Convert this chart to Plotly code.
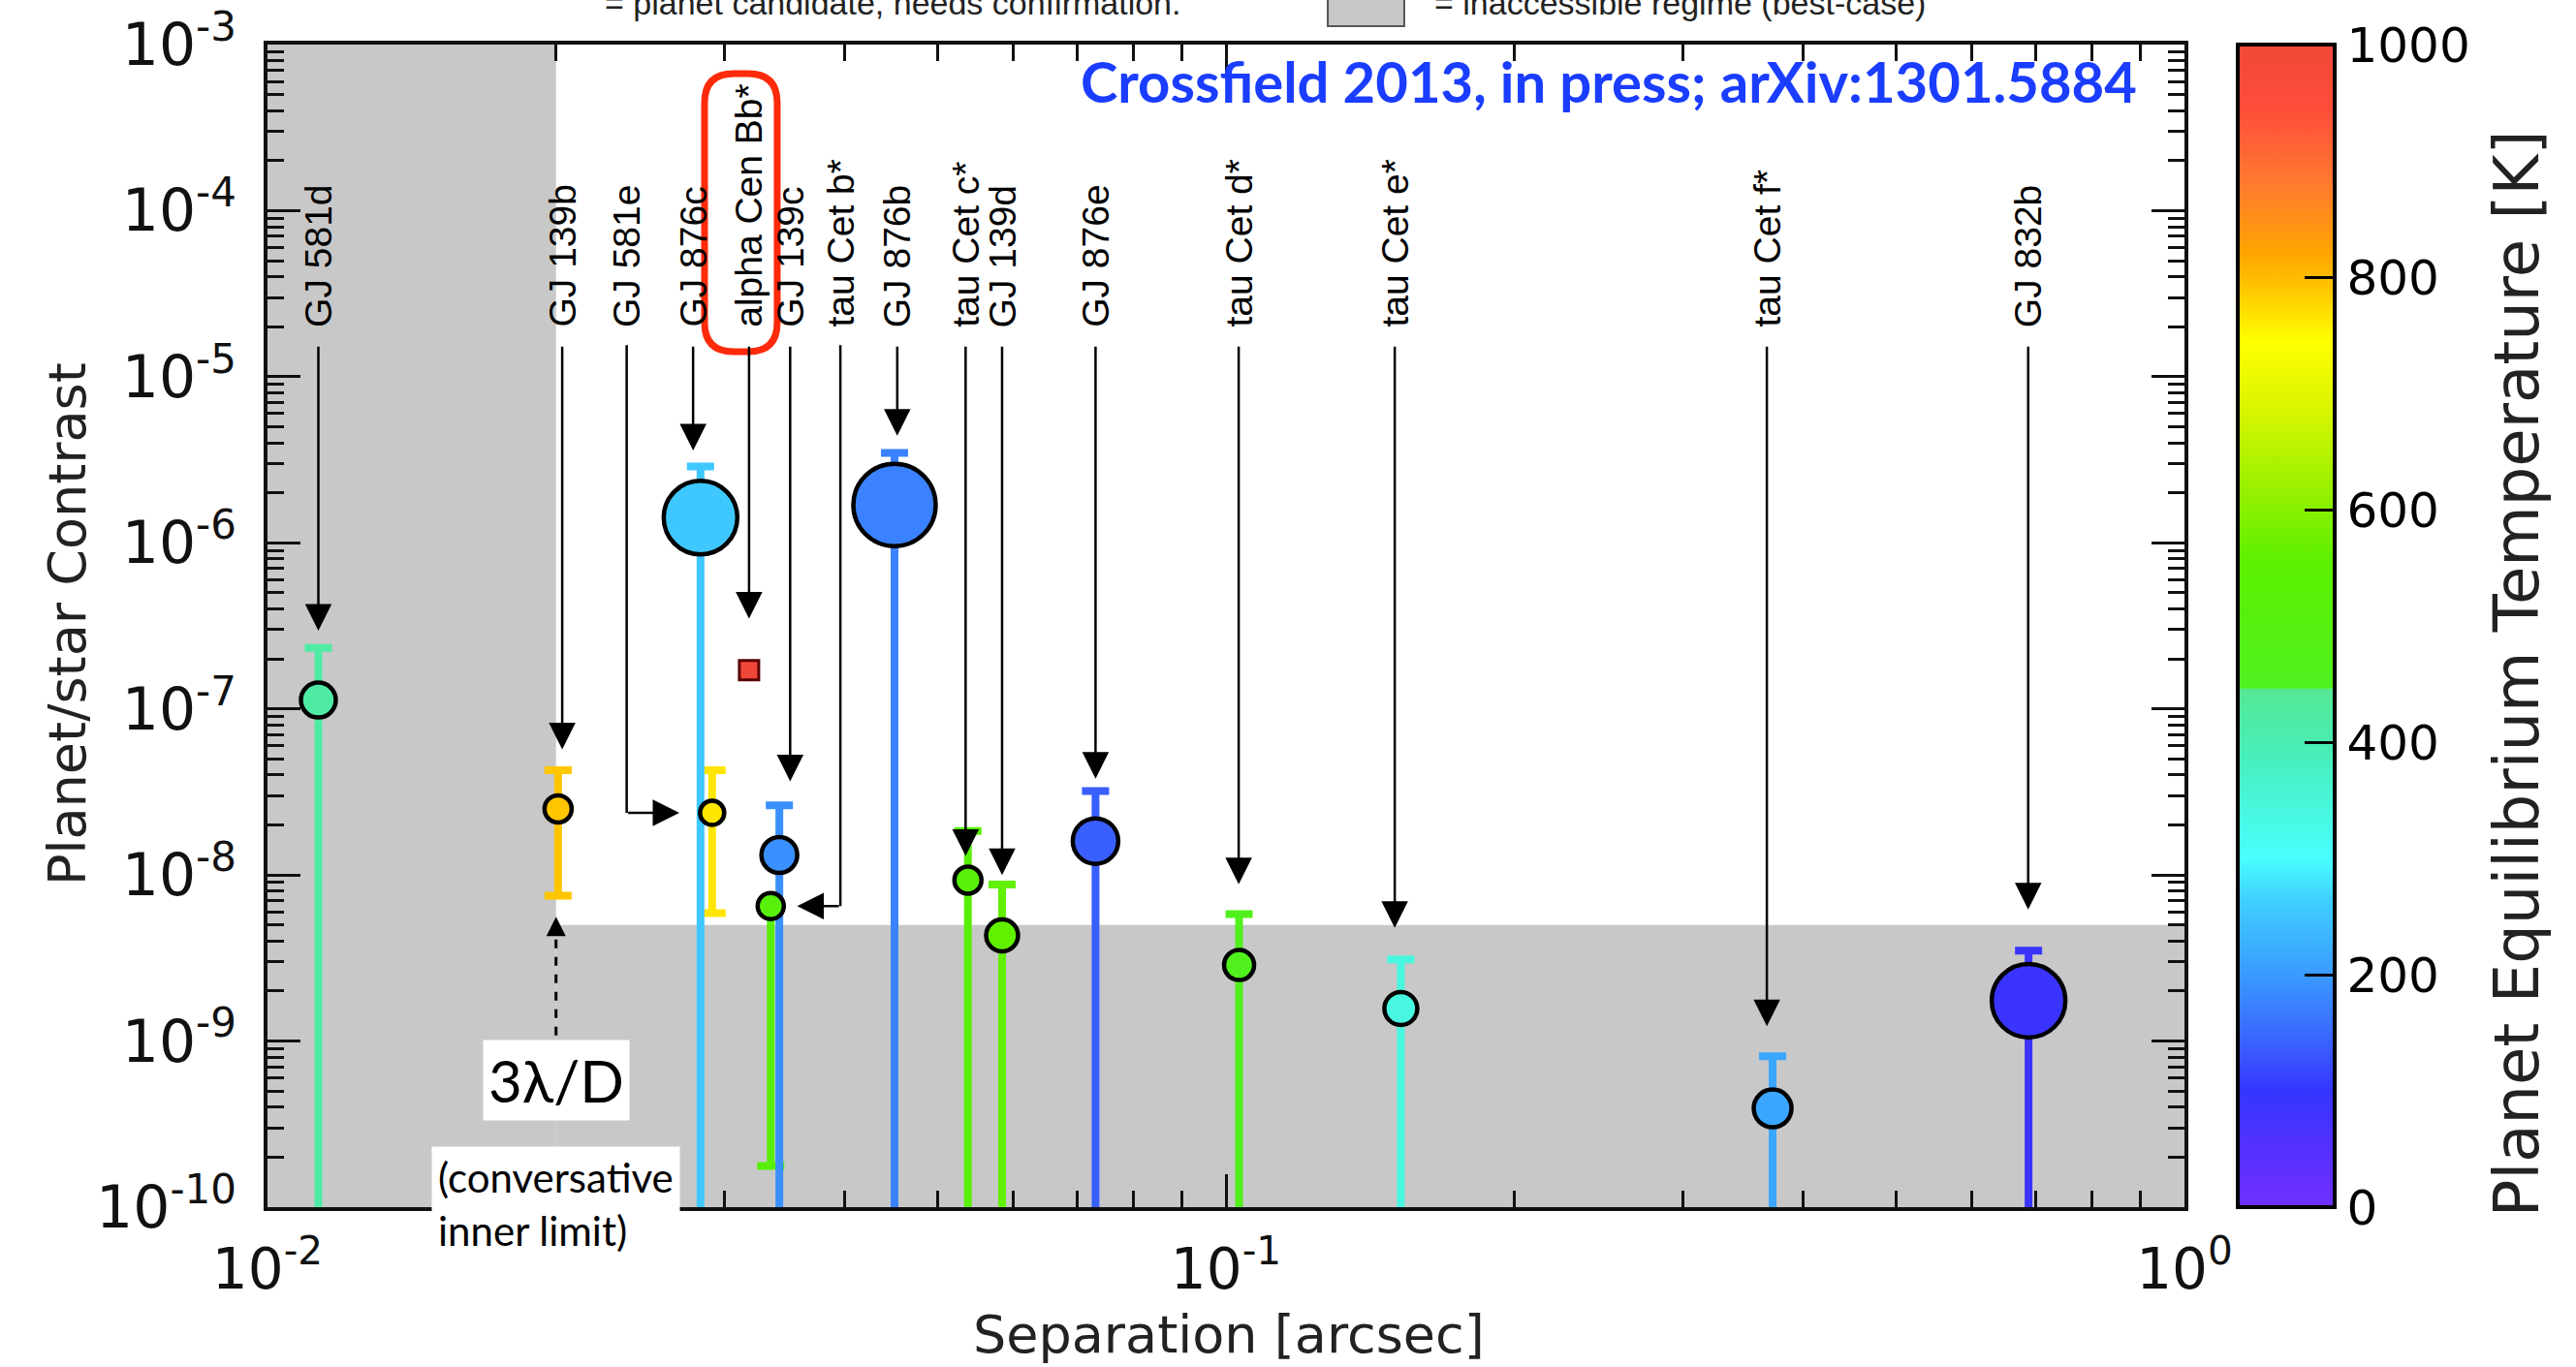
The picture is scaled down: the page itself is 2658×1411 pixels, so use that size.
import numpy as np
import plotly.graph_objects as go

# ---------------- data ----------------
planets = ["GJ 581d", "GJ 139b", "GJ 581e", "GJ 876c", "alpha Cen Bb*",
           "tau Cet b*", "GJ 139c", "GJ 876b", "tau Cet c*", "GJ 139d",
           "GJ 876e", "tau Cet d*", "tau Cet e*", "tau Cet f*", "GJ 832b"]
separation = [0.0113, 0.0201, 0.0291, 0.0283, 0.0318,
              0.0335, 0.0342, 0.0451, 0.0538, 0.0584,
              0.0731, 0.1032, 0.1522, 0.3718, 0.6876]
contrast = [1.13e-7, 2.50e-8, 2.37e-8, 1.42e-6, 1.71e-7,
            6.5e-9, 1.32e-8, 1.69e-6, 9.3e-9, 4.33e-9,
            1.60e-8, 2.87e-9, 1.57e-9, 3.93e-10, 1.75e-9]
contrast_upper = [2.33e-7, 4.27e-8, 4.27e-8, 2.88e-6, None,
                  None, 2.63e-8, 3.48e-6, 1.84e-8, 8.77e-9,
                  3.2e-8, 5.82e-9, 3.1e-9, 8.1e-10, 3.5e-9]
# None = error bar runs off the bottom of the plot
contrast_lower = [None, 7.5e-9, 5.9e-9, None, None,
                  1.77e-10, None, None, None, None,
                  None, None, None, None, None]
has_errorbar = [True, True, True, True, False,
                True, True, True, True, True,
                True, True, True, True, True]
teq_K = [420, 790, 765, 255, 1000, 520, 190, 175, 530, 560, 140, 460, 340, 215, 90]
# relative symbol size (as drawn in the figure)
symbol_value = [3.6, 2.8, 2.5, 7.6, 2.0, 2.7, 3.7, 8.5, 2.8, 3.3, 4.7, 3.1, 3.4, 3.9, 7.6]

# label / arrow positions (arcsec) and arrow tips (contrast)
label_sep = [0.0113, 0.0203, 0.0237, 0.0278, 0.0318,
             0.0396, 0.0351, 0.0454, 0.0535, 0.0584,
             0.0731, 0.1031, 0.1500, 0.3667, 0.6870]
arrow_tip = [2.96e-7, 5.7e-8, None, 3.6e-6, 3.5e-7,
             None, 3.66e-8, 4.42e-6, 1.3e-8, 1.0e-8,
             3.8e-8, 8.8e-9, 4.8e-9, 1.23e-9, 6.2e-9]
# bent arrows (vertical, then horizontal toward the point): tip separation
bent_tip_sep = [None, None, 0.0269, None, None,
                0.0357, None, None, None, None,
                None, None, None, None, None]

LABEL_BOTTOM = 1.93e-5
ARROW_TAIL = 1.55e-5
INNER_LIMIT = 0.0200       # 3 lambda/D  [arcsec]
CONTRAST_LIMIT = 5.0e-9    # best-case contrast floor
X_RANGE = [0.01, 1.0]
Y_RANGE = [1e-10, 1e-3]

x_ticks = [0.01, 0.1, 1.0]
x_ticktext = ["10<sup>-2</sup>", "10<sup>-1</sup>", "10<sup>0</sup>"]
y_ticks = [1e-10, 1e-9, 1e-8, 1e-7, 1e-6, 1e-5, 1e-4, 1e-3]
y_ticktext = ["10<sup>-%d</sup>" % k for k in range(10, 2, -1)]
cb_ticks = [0, 200, 400, 600, 800, 1000]

# ---------------- colour scale ----------------
CSCALE = [
    [0.000, '#7030ff'], [0.050, '#5530ff'], [0.100, '#3535ff'], [0.150, '#3a6aff'],
    [0.200, '#3a9aff'], [0.265, '#40d0ff'], [0.300, '#48ffff'], [0.390, '#48eeb8'],
    [0.445, '#55e895'], [0.447, '#50f020'], [0.555, '#5cf000'], [0.620, '#9af000'],
    [0.685, '#d8f500'], [0.745, '#ffff00'], [0.795, '#ffc000'], [0.820, '#ffa500'],
    [0.880, '#ff7a30'], [0.945, '#ff4d3a'], [1.000, '#f04838']]


def hex2rgb(h):
    return tuple(int(h[i:i + 2], 16) for i in (1, 3, 5))


def cmap(v, vmin=0.0, vmax=1000.0):
    t = min(max((v - vmin) / (vmax - vmin), 0.0), 1.0)
    for (t0, c0), (t1, c1) in zip(CSCALE[:-1], CSCALE[1:]):
        if t <= t1:
            f = 0.0 if t1 == t0 else (t - t0) / (t1 - t0)
            a, b = hex2rgb(c0), hex2rgb(c1)
            return 'rgb(%d,%d,%d)' % tuple(round(a[i] + (b[i] - a[i]) * f) for i in range(3))
    return CSCALE[-1][1]


fig = go.Figure()

# ---------------- error bars (one trace per planet) ----------------
for i, name in enumerate(planets):
    if not has_errorbar[i]:
        continue
    c = contrast[i]
    up = contrast_upper[i] if contrast_upper[i] is not None else c
    lo = contrast_lower[i] if contrast_lower[i] is not None else 1e-12
    fig.add_trace(go.Scatter(
        x=[separation[i]], y=[c], mode='markers',
        marker=dict(size=1, color='rgba(0,0,0,0)'),
        error_y=dict(type='data', symmetric=False, array=[up - c], arrayminus=[c - lo],
                     color=cmap(teq_K[i]), thickness=8, width=14),
        hoverinfo='skip', showlegend=False))

# ---------------- planet symbols ----------------
sizes = [10 * s for s in symbol_value]
symbols = ['square' if not e else 'circle' for e in has_errorbar]
line_w = [3 if not e else 4.5 for e in has_errorbar]
line_c = ['#5a0000' if not e else 'black' for e in has_errorbar]
fig.add_trace(go.Scatter(
    x=separation, y=contrast, mode='markers', text=planets,
    marker=dict(size=sizes, color=teq_K, colorscale=CSCALE, cmin=0, cmax=1000, opacity=1,
                symbol=symbols, line=dict(color=line_c, width=line_w),
                showscale=True,
                colorbar=dict(x=1.0278, xanchor='left', xref='paper', y=0.5, yanchor='middle',
                              len=1, lenmode='fraction', thickness=100, thicknessmode='pixels',
                              xpad=0, ypad=0, outlinecolor='black', outlinewidth=4,
                              ticks='inside', ticklen=33, tickwidth=3, tickcolor='black',
                              tickvals=cb_ticks, ticktext=[str(v) for v in cb_ticks],
                              tickfont=dict(family='DejaVu Sans', size=50, color='black'))),
    showlegend=False))

shapes = []
annotations = []

# inaccessible regimes
shapes.append(dict(type='rect', xref='x', yref='paper', x0=X_RANGE[0], x1=INNER_LIMIT, y0=0, y1=1,
                   fillcolor='#c8c8c8', line=dict(width=0), layer='below'))
shapes.append(dict(type='rect', xref='x', yref='y', x0=INNER_LIMIT, x1=X_RANGE[1],
                   y0=Y_RANGE[0], y1=CONTRAST_LIMIT,
                   fillcolor='#c8c8c8', line=dict(width=0), layer='below'))

# labels and arrows
for i, name in enumerate(planets):
    lx = np.log10(label_sep[i])
    annotations.append(dict(x=lx, y=np.log10(LABEL_BOTTOM), xref='x', yref='y', text=name,
                            textangle=-90, showarrow=False, xanchor='center', yanchor='bottom',
                            font=dict(family='Liberation Sans', size=39, color='black')))
    if arrow_tip[i] is not None:
        annotations.append(dict(x=lx, y=np.log10(arrow_tip[i]), xref='x', yref='y',
                                ax=lx, ay=np.log10(ARROW_TAIL), axref='x', ayref='y',
                                text='', showarrow=True, arrowhead=2, arrowsize=2.2,
                                arrowwidth=2.5, arrowcolor='black'))
    else:
        shapes.append(dict(type='line', xref='x', yref='y', x0=label_sep[i], x1=label_sep[i],
                           y0=ARROW_TAIL, y1=contrast[i], line=dict(color='black', width=2.5)))
        annotations.append(dict(x=np.log10(bent_tip_sep[i]), y=np.log10(contrast[i]),
                                xref='x', yref='y', ax=lx, ay=np.log10(contrast[i]),
                                axref='x', ayref='y', text='', showarrow=True, arrowhead=2,
                                arrowsize=2.2, arrowwidth=2.5, arrowcolor='black'))

# red rounded box around alpha Cen Bb*
x0, x1, y0, y1 = 0.2280, 0.2659, 0.7358, 0.975
rx, ry = 0.0152, 0.025
path = (f"M{x0+rx},{y1} L{x1-rx},{y1} Q{x1},{y1} {x1},{y1-ry} L{x1},{y0+ry} "
        f"Q{x1},{y0} {x1-rx},{y0} L{x0+rx},{y0} Q{x0},{y0} {x0},{y0+ry} "
        f"L{x0},{y1-ry} Q{x0},{y1} {x0+rx},{y1} Z")
shapes.append(dict(type='path', xref='paper', yref='paper', path=path,
                   line=dict(color='#ff2a0a', width=7)))

# 3 lambda / D marker
shapes.append(dict(type='line', xref='x', yref='y', x0=INNER_LIMIT, x1=INNER_LIMIT,
                   y0=8.5e-10, y1=5.2e-9, line=dict(color='black', width=3, dash='dash')))
annotations.append(dict(x=np.log10(INNER_LIMIT), y=np.log10(5.6e-9), xref='x', yref='y',
                        ax=0, ay=16, text='', showarrow=True, arrowhead=2, arrowsize=1.6,
                        arrowwidth=2.5, arrowcolor='black'))
annotations.append(dict(x=np.log10(INNER_LIMIT), y=np.log10(5.8e-10), xref='x', yref='y',
                        text='3λ/D', showarrow=False, bgcolor='white', borderpad=5,
                        xanchor='center', yanchor='middle',
                        font=dict(family='Lato', size=60, color='black')))
annotations.append(dict(x=np.log10(INNER_LIMIT), y=np.log10(1.05e-10), xref='x', yref='y',
                        text='(conversative<br>inner limit)', showarrow=False, bgcolor='white',
                        align='left', borderpad=6, xanchor='center', yanchor='middle',
                        font=dict(family='Lato', size=42, color='black')))

# citation
annotations.append(dict(x=0.9762, y=0.969, xref='paper', yref='paper', xanchor='right',
                        yanchor='middle', showarrow=False,
                        text='<b>Crossfield 2013, in press; arXiv:1301.5884</b>',
                        font=dict(family='Lato', size=58, color='#1a3dff')))

# partially visible legend above the plot
annotations.append(dict(x=0.1749, y=1.0358, xref='paper', yref='paper', xanchor='left',
                        yanchor='middle', showarrow=False,
                        text='= planet candidate, needs confirmation.',
                        font=dict(family='Liberation Sans', size=34, color='#222')))
shapes.append(dict(type='rect', xref='paper', yref='paper', x0=0.5531, x1=0.5930,
                   y0=1.0158, y1=1.06, fillcolor='#c8c8c8', line=dict(color='#555', width=2)))
annotations.append(dict(x=0.6077, y=1.0358, xref='paper', yref='paper', xanchor='left',
                        yanchor='middle', showarrow=False,
                        text='= inaccessible regime (best-case)',
                        font=dict(family='Liberation Sans', size=34, color='#222')))

# axis titles
annotations.append(dict(x=-0.1041, y=0.5017, xref='paper', yref='paper', textangle=-90,
                        xanchor='center', yanchor='middle',
                        showarrow=False, text='Planet/star Contrast',
                        font=dict(family='DejaVu Sans', size=54, color='#222')))
annotations.append(dict(x=0.5015, y=-0.1092, xref='paper', yref='paper',
                        xanchor='center', yanchor='middle',
                        showarrow=False, text='Separation [arcsec]',
                        font=dict(family='DejaVu Sans', size=54, color='#222')))
annotations.append(dict(x=1.1734, y=0.459, xref='paper', yref='paper', textangle=-90,
                        xanchor='center', yanchor='middle',
                        showarrow=False, text='Planet Equilibrium Temperature [K]',
                        font=dict(family='DejaVu Sans', size=64, color='#222')))

# colorbar minor ticks
cb_left = 1.0278
cb_right = cb_left + 100 / 1978
for v in range(50, 1000, 50):
    if v % 200 == 0:
        continue
    shapes.append(dict(type='line', xref='paper', yref='paper', x0=cb_right - 14 / 1978,
                       x1=cb_right, y0=v / 1000, y1=v / 1000,
                       line=dict(color='black', width=2.5)))
for f in (0.2, 0.4, 0.6, 0.8):
    xx = cb_left + f * (cb_right - cb_left)
    shapes.append(dict(type='line', xref='paper', yref='paper', x0=xx, x1=xx,
                       y0=1, y1=1 - 8 / 1200, line=dict(color='black', width=2.5)))
    shapes.append(dict(type='line', xref='paper', yref='paper', x0=xx, x1=xx,
                       y0=0, y1=8 / 1200, line=dict(color='black', width=2.5)))

x_minor = [k * 10.0 ** e for e in (-2, -1) for k in range(2, 10)]
y_minor = [k * 10.0 ** e for e in range(-10, -3) for k in range(2, 10)]

axis_common = dict(type='log', showline=True, linecolor='#111', linewidth=4, mirror='ticks',
                   ticks='inside', ticklen=34, tickwidth=3, tickcolor='#111',
                   showgrid=False, zeroline=False)

fig.update_layout(
    template='none',
    width=2658, height=1411,
    margin=dict(l=276, r=404, t=46, b=165, pad=0),
    paper_bgcolor='white', plot_bgcolor='white',
    showlegend=False,
    xaxis=dict(range=[np.log10(X_RANGE[0]), np.log10(X_RANGE[1])], tickmode='array',
               tickvals=x_ticks, ticktext=x_ticktext, ticklabelstandoff=10,
               tickfont=dict(family='DejaVu Sans', size=58, color='#111'),
               minor=dict(ticks='inside', ticklen=17, tickwidth=2.5, tickcolor='#111',
                          tickmode='array', tickvals=x_minor, showgrid=False),
               **axis_common),
    yaxis=dict(range=[np.log10(Y_RANGE[0]), np.log10(Y_RANGE[1])], tickmode='array',
               tickvals=y_ticks, ticktext=y_ticktext, ticklabelstandoff=16,
               tickfont=dict(family='DejaVu Sans', size=60, color='#111'),
               minor=dict(ticks='inside', ticklen=17, tickwidth=2.5, tickcolor='#111',
                          tickmode='array', tickvals=y_minor, showgrid=False),
               **axis_common),
    shapes=shapes,
    annotations=annotations,
)

fig.write_html("out.html")
